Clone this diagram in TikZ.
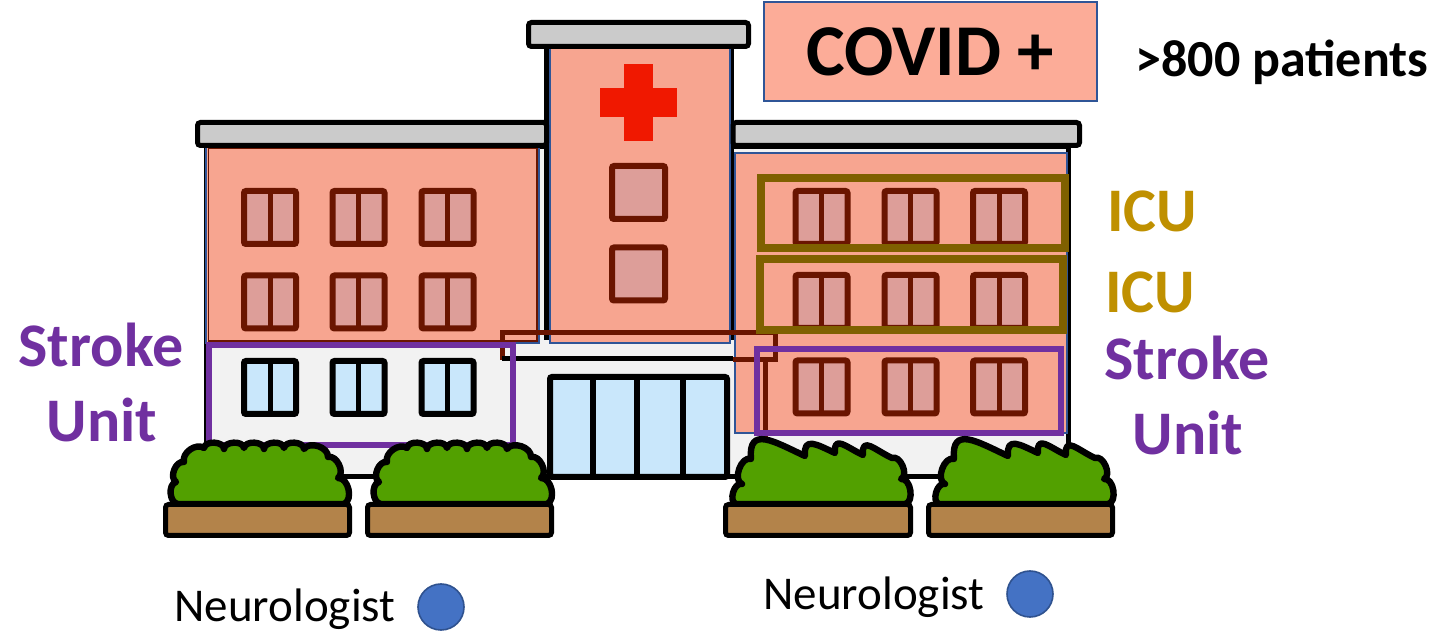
\documentclass[tikz,border=0pt]{standalone}
\usepackage{fontspec}
\setmainfont{Carlito}
\definecolor{wallgray}{HTML}{F2F2F2}
\definecolor{roofgray}{HTML}{CBCBCB}
\definecolor{covid}{HTML}{F7A590}
\definecolor{covidbox}{HTML}{FCAC98}
\definecolor{edgeblue}{HTML}{2F5597}
\definecolor{brick}{HTML}{6A1500}
\definecolor{winpink}{HTML}{DD9E99}
\definecolor{glass}{HTML}{C9E7FB}
\definecolor{crossred}{HTML}{F01800}
\definecolor{leaf}{HTML}{52A000}
\definecolor{soil}{HTML}{B3834A}
\definecolor{stroke}{HTML}{7030A0}
\definecolor{icubox}{HTML}{7F6000}
\definecolor{icutext}{HTML}{BF9000}
\definecolor{dot}{HTML}{4472C4}
\definecolor{dotedge}{HTML}{2F528F}
\tikzset{
  wall/.style={fill=wallgray, draw=black, line width=2.5pt},
  roof/.style={fill=roofgray, draw=black, line width=2.5pt, rounded corners=1.5pt},
  overlay/.style={fill=covid, draw=edgeblue, line width=0.8pt},
  unitbox/.style={draw=stroke, line width=3pt},
  icuframe/.style={draw=icubox, line width=3.6pt},
  label/.style={font=\bfseries\fontsize{31}{31}\selectfont, anchor=base, inner sep=0pt},
  docname/.style={font=\fontsize{23.5}{23.5}\selectfont, anchor=base, inner sep=0pt},
  doctor/.style={circle, fill=dot, draw=dotedge, line width=0.8pt, minimum size=23pt, inner sep=0pt},
  planter/.style={fill=soil, draw=black, line width=2.5pt, rounded corners=1.5pt},
  foliage/.style={fill=leaf, draw=black, line width=3.2pt, line join=round},
  pics/pinkpane/.style={code={
    \draw[draw=brick, fill=winpink, line width=3pt, rounded corners=1pt] (-26,-26.5) rectangle (26,26.5);
    \draw[draw=brick, line width=2.5pt] (0,-26.5) -- (0,26.5);
  }},
  pics/bluepane/.style={code={
    \draw[draw=black, fill=glass, line width=3pt, rounded corners=1pt] (-26,-26.5) rectangle (26,26.5);
    \draw[draw=black, line width=2.5pt] (0,-26.5) -- (0,26.5);
  }},
  pics/squarepane/.style={code={
    \draw[draw=brick, fill=winpink, line width=3pt, rounded corners=1pt] (-26.5,-26.5) rectangle (26.5,26.5);
  }},
  % rounded, cloud-like shrub
  pics/roundshrub/.style={code={
    \draw[foliage]
      (8,64) to[bend left=80] (6,42) to[bend left=80] (14,22) to[bend left=70] (34,8)
      to[bend left=85] (54,9) to[bend left=85] (74,8) to[bend left=85] (94,9)
      to[bend left=85] (114,8) to[bend left=85] (134,9) to[bend left=75] (158,17)
      to[bend left=80] (168,38) to[bend left=80] (174,64) -- cycle;
  }},
  % leafy shrub with slanted leaf tips
  pics/leafshrub/.style={code={
    \draw[foliage]
      (4,64) to[bend left=90] (10,44) to[bend left=90] (19,19)
      to[out=95, in=155, looseness=1.6] (73,16)
      to[out=95, in=155, looseness=1.7] (103,13)
      to[out=95, in=155, looseness=1.7] (131,15)
      to[out=95, in=155, looseness=1.7] (160,18)
      to[bend left=90] (169,39) to[bend left=90] (173,64) -- cycle;
  }},
}
\begin{document}
\begin{tikzpicture}[x=0.5pt, y=-0.5pt]
\useasboundingbox (0,0) rectangle (1448,641);

% body of the building
\draw[wall] (206,147) rectangle (1068,477);
% central tower
\draw[fill=covid, line width=2.5pt] (546.5,46) rectangle (731,338);

% COVID-coloured wings and tower
\draw[overlay] (206,146) rectangle (539,343);
\draw[draw=brick, line width=0.8pt] (208.5,148.5) rectangle (537,341);
\draw[overlay] (550,46) rectangle (730,343);
\draw[overlay] (735,153) rectangle (1067,433);

% roofs
\draw[roof] (197.5,122.5) rectangle (546.5,145.5);
\draw[roof] (733,122.5) rectangle (1079.5,145.5);
\draw[roof] (528.5,22.5) rectangle (748.5,46.5);

% red cross
\fill[crossred] (624,64) rectangle (653,141);
\fill[crossred] (600,88) rectangle (677,117);

% windows
\foreach \x in {270,358.5,447.5} {
  \foreach \y in {217.5,302} { \pic at (\x,\y) {pinkpane}; }
  \pic at (\x,387.5) {bluepane};
}
\foreach \x in {821.5,910.5,999} {
  \foreach \y in {217.5,301.5,387} { \pic at (\x,\y) {pinkpane}; }
}
\pic at (638.5,192.5) {squarepane};
\pic at (638.5,274) {squarepane};

% lower annex ledge
\draw[draw=brick, line width=2.5pt] (502,360) -- (502,333) -- (775,333) -- (775,360) -- (733,360);
\draw[draw=brick, line width=2.5pt] (765,360) -- (765,446);
\draw[line width=2.5pt] (502,359) -- (733,359);

% entrance door
\draw[fill=glass, line width=3pt, rounded corners=1pt] (550,377) rectangle (727,477);
\foreach \x in {593,637,683} { \draw[line width=3pt] (\x,377) -- (\x,477); }

% unit frames
\draw[icuframe] (761,178) rectangle (1065,248);
\draw[icuframe] (760,259) rectangle (1063,330);
\draw[unitbox] (208.5,345.5) rectangle (512.5,445.5);
\draw[unitbox] (756.5,349.5) rectangle (1060.5,433.5);

% bushes and planters
\pic at (170,440) {roundshrub};
\pic at (373,440) {roundshrub};
\pic at (732,440) {leafshrub};
\pic at (935,440) {leafshrub};
\draw[planter] (165.5,504.5) rectangle (349.5,535.5);
\draw[planter] (367.5,504.5) rectangle (551.5,535.5);
\draw[planter] (725.5,504.5) rectangle (910.5,535.5);
\draw[planter] (928.5,504.5) rectangle (1112.5,535.5);

% labels
\node[draw=edgeblue, line width=0.8pt, fill=covidbox, minimum width=166.5pt, minimum height=49.5pt,
      inner sep=0pt, font=\bfseries\fontsize{36.5}{36.5}\selectfont] (covid) at (930.5,51.5) {COVID +};
\node[font=\bfseries\fontsize{26}{26}\selectfont, anchor=base, inner sep=0pt] (count) at (1282,77) {>800 patients};

\node[label, text=icutext] (icuA) at (1152,232) {ICU};
\node[label, text=icutext] (icuB) at (1150,313) {ICU};
\node[label, text=stroke] (strokeR) at (1187,380) {Stroke};
\node[label, text=stroke] (unitR) at (1188,455) {Unit};
\node[label, text=stroke] (strokeL) at (101,367) {Stroke};
\node[label, text=stroke] (unitL) at (102,442) {Unit};

\node[docname] (neuroL) at (285,622) {Neurologist};
\node[doctor] (dotL) at (441,607) {};
\node[docname] (neuroR) at (874,610) {Neurologist};
\node[doctor] (dotR) at (1030,594) {};
\end{tikzpicture}
\end{document}
